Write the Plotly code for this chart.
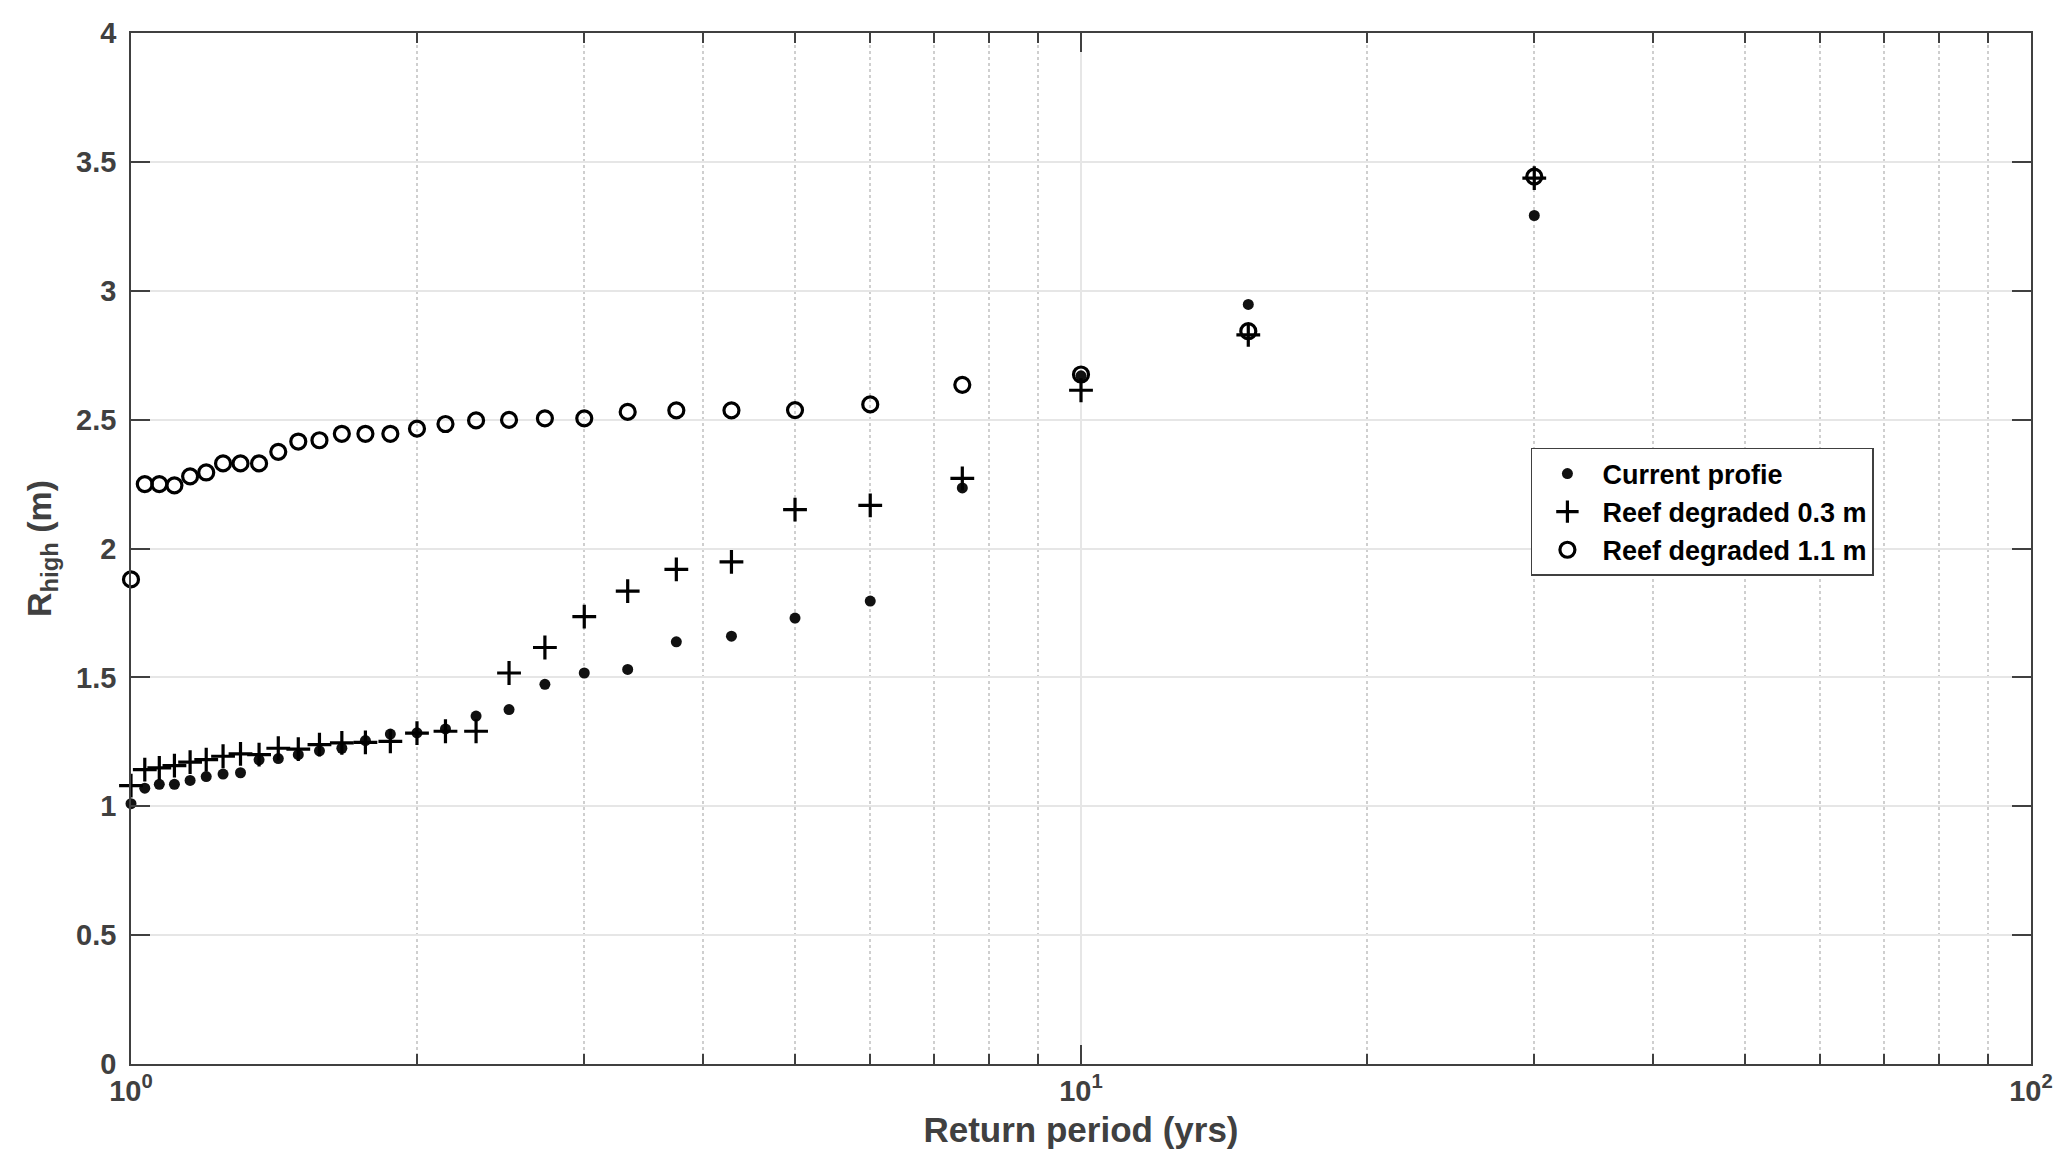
import plotly.graph_objects as go

# Return period (yrs)
return_period = [1.0, 1.034, 1.071, 1.111, 1.154, 1.2, 1.25, 1.304, 1.364, 1.429,
                 1.5, 1.579, 1.667, 1.765, 1.875, 2.0, 2.143, 2.308, 2.5, 2.727,
                 3.0, 3.333, 3.75, 4.286, 5.0, 6.0, 7.5, 10.0, 15.0, 30.0]

current_profile = [1.01, 1.07, 1.085, 1.085, 1.10, 1.115, 1.125, 1.13, 1.18, 1.185,
                   1.20, 1.215, 1.225, 1.255, 1.28, 1.285, 1.30, 1.35, 1.375, 1.473,
                   1.517, 1.531, 1.638, 1.66, 1.73, 1.796, 2.235, 2.67, 2.947, 3.292]

reef_degraded_03 = [1.08, 1.142, 1.149, 1.158, 1.171, 1.181, 1.194, 1.203, 1.20, 1.225,
                    1.222, 1.239, 1.246, 1.248, 1.252, 1.284, 1.291, 1.291, 1.517, 1.616,
                    1.736, 1.835, 1.919, 1.948, 2.151, 2.167, 2.272, 2.614, 2.829, 3.437]

reef_degraded_11 = [1.88, 2.25, 2.25, 2.245, 2.28, 2.295, 2.33, 2.33, 2.33, 2.375,
                    2.415, 2.42, 2.445, 2.445, 2.445, 2.465, 2.483, 2.497, 2.499, 2.505,
                    2.505, 2.53, 2.536, 2.536, 2.537, 2.559, 2.635, 2.675, 2.843, 3.443]

series_names = ["Current profie", "Reef degraded 0.3 m", "Reef degraded 1.1 m"]

x_tickvals = [1, 10, 100]
x_ticktext = ["10<sup>0</sup>", "10<sup>1</sup>", "10<sup>2</sup>"]
x_minorvals = [2, 3, 4, 5, 6, 7, 8, 9, 20, 30, 40, 50, 60, 70, 80, 90]
y_tickvals = [0, 0.5, 1, 1.5, 2, 2.5, 3, 3.5, 4]
y_ticktext = ["0", "0.5", "1", "1.5", "2", "2.5", "3", "3.5", "4"]

AX = "#404040"
FONT = "Liberation Sans, Arial, sans-serif"

fig = go.Figure()
fig.add_trace(go.Scatter(
    x=return_period, y=current_profile, mode="markers", name=series_names[0],
    cliponaxis=False,
    marker=dict(symbol="circle", size=11, color="#111111", line=dict(width=0))))
fig.add_trace(go.Scatter(
    x=return_period, y=reef_degraded_03, mode="markers", name=series_names[1],
    cliponaxis=False,
    marker=dict(symbol="cross-thin-open", size=17, color="black",
                line=dict(width=3.2, color="black"))))
fig.add_trace(go.Scatter(
    x=return_period, y=reef_degraded_11, mode="markers", name=series_names[2],
    cliponaxis=False,
    marker=dict(symbol="circle-open", size=15, color="black",
                line=dict(width=3.2, color="black"))))

# page has an 8px body margin, so the figure is 16px smaller and margins shifted
fig.update_layout(
    width=2051, height=1151,
    margin=dict(l=123, r=28, t=25, b=95, autoexpand=False),
    paper_bgcolor="white", plot_bgcolor="white",
    font=dict(family=FONT, color=AX),
    showlegend=True,
    legend=dict(
        x=0.7368, y=0.5975, xanchor="left", yanchor="top",
        bgcolor="white", bordercolor=AX, borderwidth=1.5,
        font=dict(family=FONT, size=27, color="black", weight="bold"),
        tracegroupgap=0, itemsizing="trace", itemwidth=60,
    ),
    xaxis=dict(
        type="log", range=[0, 2],
        tickmode="array", tickvals=x_tickvals, ticktext=x_ticktext,
        ticks="inside", ticklen=19, tickwidth=1.5, tickcolor=AX,
        showline=True, linecolor=AX, linewidth=1.5, mirror="ticks",
        showgrid=True, gridcolor="#e6e6e6", gridwidth=1.5,
        zeroline=False,
        tickfont=dict(family=FONT, size=29, color=AX, weight="bold"),
        title=dict(text="Return period (yrs)", standoff=12,
                   font=dict(family=FONT, size=35, color=AX, weight="bold")),
        minor=dict(tickmode="array", tickvals=x_minorvals, ticks="inside",
                   ticklen=10, tickwidth=1.5, tickcolor=AX,
                   showgrid=True, gridcolor="#cfcfcf", gridwidth=1.5, griddash="dot"),
        automargin=False,
    ),
    yaxis=dict(
        range=[0, 4],
        tickmode="array", tickvals=y_tickvals, ticktext=y_ticktext,
        ticks="inside", ticklen=19, tickwidth=1.5, tickcolor=AX,
        showline=True, linecolor=AX, linewidth=1.5, mirror="ticks",
        showgrid=True, gridcolor="#e6e6e6", gridwidth=1.5,
        zeroline=False, ticklabelstandoff=7,
        tickfont=dict(family=FONT, size=29, color=AX, weight="bold"),
        title=dict(text="R<sub>high</sub> (m)", standoff=14,
                   font=dict(family=FONT, size=34, color=AX, weight="bold")),
        automargin=False,
    ),
)

fig.write_html("out.html")
